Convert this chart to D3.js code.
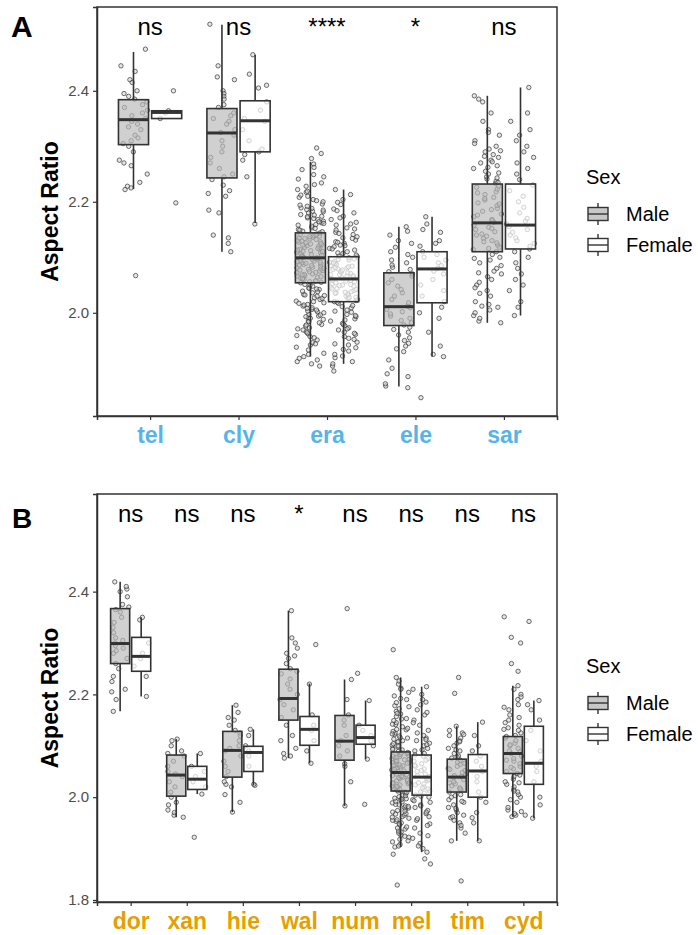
<!DOCTYPE html>
<html><head><meta charset="utf-8">
<script src="https://cdn.jsdelivr.net/npm/d3@7"></script>
<style>body{margin:0;background:#fff}svg{display:block;font-family:"Liberation Sans",Arial,Helvetica,sans-serif}</style>
</head><body><svg id="c" width="698" height="935"></svg>
<script>
// ---------- Panel A data ----------
const catsA = ["tel","cly","era","ele","sar"];
const sigA = ["ns","ns","****","*","ns"];
const ticksA = [2.0, 2.2, 2.4];
// [lower whisker, q1, median, q3, upper whisker]
const boxMaleA = [[2.223,2.303,2.348,2.384,2.470],[2.110,2.243,2.324,2.368,2.519],[1.921,2.054,2.099,2.144,2.272],[1.867,1.977,2.011,2.072,2.155],[1.982,2.110,2.162,2.232,2.391]];
const boxFemaleA = [[2.350,2.350,2.361,2.364,2.364],[2.162,2.290,2.346,2.382,2.465],[1.908,2.020,2.061,2.101,2.222],[1.921,2.018,2.079,2.110,2.173],[1.995,2.115,2.158,2.232,2.406]];
const ptsMaleA = [
 [2.475,2.445,2.435,2.42,2.415,2.40,2.395,2.39,2.385,2.38,2.375,2.37,2.365,2.36,2.355,2.35,2.345,2.34,2.335,2.33,2.32,2.315,2.31,2.305,2.30,2.29,2.275,2.27,2.265,2.25,2.235,2.228,2.225,2.222,2.067],
 [2.52,2.445,2.425,2.42,2.40,2.395,2.39,2.385,2.375,2.37,2.36,2.355,2.35,2.345,2.34,2.33,2.325,2.32,2.31,2.30,2.29,2.28,2.27,2.26,2.25,2.245,2.24,2.23,2.22,2.215,2.21,2.185,2.18,2.14,2.135,2.125,2.11],
 [1.904,1.908,1.912,1.918,1.921,1.927,1.933,1.938,1.942,1.946,1.951,1.955,1.959,1.962,1.966,1.969,1.973,1.976,1.979,1.982,1.985,1.988,1.991,1.994,1.997,2.000,2.003,2.006,2.009,2.012,2.015,2.018,2.021,2.024,2.027,2.030,2.033,2.036,2.039,2.042,2.045,2.048,2.051,
  2.054,2.055,2.057,2.058,2.060,2.061,2.063,2.064,2.066,2.067,2.069,2.070,2.072,2.073,2.075,2.076,2.078,2.079,2.081,2.082,2.084,2.085,2.087,2.088,2.090,2.091,2.093,2.094,2.096,2.097,
  2.099,2.100,2.102,2.103,2.105,2.106,2.108,2.109,2.111,2.112,2.114,2.115,2.117,2.118,2.120,2.121,2.123,2.124,2.126,2.127,2.129,2.130,2.132,2.133,2.135,2.136,2.138,2.139,2.141,2.142,
  2.144,2.147,2.150,2.153,2.156,2.159,2.162,2.165,2.168,2.171,2.174,2.177,2.180,2.183,2.186,2.189,2.192,2.196,2.200,2.204,2.208,2.212,2.217,2.222,2.228,2.234,2.241,2.249,2.258,2.268,2.278,2.287,2.297,
  1.915,1.925,1.944,1.957,1.964,1.971,1.978,1.984,1.990,1.996,2.002,2.008,2.014,2.020,2.026,2.032,2.038,2.044,2.050,2.056,2.062,2.068,2.074,2.080,2.086,2.092,2.098,2.104,2.110,2.116,2.122,2.128,2.134,2.140,2.146,2.152,2.158,2.164,2.170,2.176,2.182,2.188,2.194,2.202,2.210,2.219,2.231,2.245,2.262,2.065,2.077,2.089,2.101,2.113,2.125,2.137,2.149,2.161,2.173,2.185,2.031,2.043,2.017,2.005,1.993],
 [1.865,1.868,1.872,1.885,1.89,1.90,1.915,1.93,1.935,1.94,1.945,1.95,1.955,1.96,1.965,1.97,1.974,1.978,1.982,1.986,1.99,1.994,1.998,2.002,2.006,2.009,2.012,2.018,2.024,2.03,2.036,2.042,2.048,2.054,2.06,2.066,2.07,2.074,2.078,2.082,2.086,2.09,2.095,2.10,2.105,2.11,2.118,2.125,2.13,2.14,2.147,2.155],
 [1.982,1.985,1.99,1.995,2.0,2.005,2.01,2.015,2.02,2.03,2.035,2.04,2.05,2.055,2.06,2.065,2.07,2.075,2.08,2.085,2.09,2.095,2.1,2.105,2.11,2.114,2.118,2.122,2.126,2.13,2.134,2.138,2.142,2.146,2.15,2.154,2.158,2.163,2.168,2.173,2.178,2.183,2.188,2.193,2.198,2.203,2.208,2.213,2.218,2.223,2.228,2.233,2.237,2.241,2.245,2.25,2.255,2.26,2.265,2.27,2.275,2.28,2.285,2.29,2.295,2.3,2.31,2.32,2.33,2.345,2.36,2.38,2.385,2.391,
  2.012,2.045,2.072,2.098,2.116,2.128,2.140,2.152,2.166,2.176,2.186,2.196,2.206,2.216,2.226,2.235,2.243,2.252,2.262,2.272,2.282,2.292,2.305,2.325]
];
const ptsFemaleA = [
 [2.40,2.364,2.36,2.35,2.198],
 [2.465,2.43,2.41,2.405,2.38,2.365,2.35,2.345,2.33,2.31,2.295,2.29,2.285,2.275,2.245,2.16],
 [1.895,1.904,1.912,1.919,1.925,1.931,1.937,1.942,1.947,1.952,1.957,1.961,1.965,1.969,1.973,1.977,1.981,1.985,1.989,1.993,1.997,2.001,2.005,2.009,2.013,2.017,
  2.020,2.022,2.024,2.026,2.028,2.030,2.032,2.034,2.036,2.038,2.040,2.042,2.044,2.046,2.048,2.050,2.052,2.054,2.056,2.058,
  2.061,2.063,2.065,2.067,2.069,2.071,2.073,2.075,2.077,2.079,2.081,2.083,2.085,2.087,2.089,2.091,2.093,2.095,2.097,2.099,
  2.101,2.104,2.107,2.110,2.113,2.116,2.119,2.122,2.125,2.128,2.131,2.134,2.137,2.141,2.145,2.149,2.153,2.158,2.163,2.168,2.174,2.180,2.187,2.195,2.204,2.213,2.222,
  1.908,1.922,1.934,1.944,1.954,1.963,1.971,1.979,1.987,1.995,2.003,2.011,2.019,2.027,2.035,2.043,2.051,2.059,2.066,2.072,2.078,2.084,2.090,2.096,2.102,2.108,2.115,2.121,2.127,2.135,2.143,2.151,2.160,2.171,2.184,2.199,2.037,2.049,2.057,2.069,2.081],
 [1.847,1.921,1.925,1.94,1.965,1.99,2.0,2.01,2.02,2.03,2.04,2.05,2.06,2.07,2.075,2.08,2.085,2.09,2.095,2.10,2.105,2.11,2.12,2.125,2.13,2.145,2.15,2.16,2.173],
 [1.995,2.01,2.02,2.04,2.05,2.06,2.07,2.08,2.09,2.1,2.11,2.115,2.12,2.125,2.13,2.135,2.14,2.145,2.15,2.155,2.16,2.165,2.17,2.18,2.19,2.2,2.21,2.22,2.23,2.24,2.25,2.26,2.27,2.28,2.29,2.3,2.31,2.32,2.33,2.345,2.36,2.406]
];

// ---------- Panel B data ----------
const catsB = ["dor","xan","hie","wal","num","mel","tim","cyd"];
const sigB = ["ns","ns","ns","*","ns","ns","ns","ns"];
const ticksB = [1.8, 2.0, 2.2, 2.4];
const boxMaleB = [[2.167,2.260,2.299,2.367,2.419],[1.961,2.002,2.043,2.082,2.113],[1.971,2.039,2.091,2.128,2.179],[2.076,2.150,2.192,2.249,2.363],[1.983,2.072,2.109,2.159,2.229],[1.903,2.012,2.048,2.088,2.233],[1.915,2.010,2.039,2.074,2.138],[1.962,2.046,2.085,2.118,2.217]];
const boxFemaleB = [[2.196,2.245,2.274,2.311,2.350],[2.006,2.015,2.035,2.060,2.085],[2.023,2.050,2.087,2.099,2.132],[2.066,2.101,2.132,2.157,2.221],[2.074,2.103,2.116,2.140,2.188],[1.893,2.004,2.039,2.082,2.215],[1.915,2.000,2.051,2.083,2.146],[1.959,2.025,2.066,2.138,2.188]];
const ptsMaleB = [
 [2.167,2.19,2.205,2.21,2.225,2.235,2.25,2.26,2.27,2.28,2.285,2.29,2.295,2.30,2.305,2.31,2.32,2.33,2.34,2.35,2.36,2.365,2.37,2.375,2.39,2.40,2.405,2.41,2.419],
 [1.961,1.965,1.97,1.975,1.985,1.99,2.0,2.01,2.02,2.03,2.04,2.045,2.05,2.06,2.07,2.08,2.085,2.09,2.1,2.11,2.113],
 [1.971,1.99,2.005,2.02,2.025,2.03,2.04,2.05,2.06,2.07,2.08,2.09,2.095,2.1,2.11,2.12,2.125,2.13,2.14,2.15,2.155,2.165,2.179],
 [2.076,2.08,2.085,2.095,2.11,2.12,2.14,2.155,2.17,2.18,2.19,2.20,2.21,2.22,2.23,2.24,2.245,2.25,2.26,2.27,2.275,2.28,2.29,2.30,2.31,2.363],
 [1.983,2.03,2.06,2.065,2.08,2.09,2.10,2.11,2.12,2.14,2.15,2.16,2.19,2.229,2.367],
 [1.829,1.889,1.903,1.908,1.913,1.918,1.922,1.926,1.930,1.934,1.938,1.942,1.946,1.950,1.953,1.956,1.959,1.962,1.965,1.968,1.971,1.974,1.977,1.980,1.983,1.986,1.989,1.992,1.995,1.998,2.001,2.004,2.007,2.010,
  2.012,2.014,2.016,2.018,2.020,2.022,2.024,2.026,2.028,2.030,2.032,2.034,2.036,2.038,2.040,2.042,2.044,2.046,
  2.049,2.051,2.053,2.055,2.057,2.059,2.061,2.063,2.065,2.067,2.069,2.071,2.073,2.075,2.077,2.079,2.081,2.083,2.085,2.087,
  2.089,2.092,2.095,2.098,2.101,2.104,2.107,2.110,2.113,2.116,2.119,2.122,2.125,2.128,2.131,2.134,2.137,2.141,2.145,2.149,2.153,2.157,2.162,2.167,2.172,2.178,2.184,2.190,2.197,2.204,2.212,2.220,2.226,2.233,2.287,
  1.905,1.915,1.924,1.932,1.940,1.948,1.955,1.961,1.967,1.973,1.979,1.985,1.991,1.997,2.003,2.009,2.015,2.021,2.027,2.033,2.039,2.045,2.050,2.056,2.062,2.068,2.074,2.080,2.086,2.093,2.100,2.108,2.115,2.123,2.132,2.142,2.152,2.163,2.176,2.192,2.210,2.028,2.041,2.054,2.066,2.078,1.996,1.982],
 [1.837,1.915,1.93,1.94,1.95,1.955,1.96,1.965,1.97,1.975,1.98,1.985,1.99,1.995,2.0,2.005,2.01,2.014,2.018,2.022,2.026,2.03,2.034,2.038,2.04,2.044,2.048,2.052,2.056,2.06,2.064,2.068,2.072,2.076,2.08,2.085,2.09,2.095,2.10,2.105,2.11,2.115,2.12,2.125,2.13,2.138,2.202,2.233,
  1.945,1.962,1.978,1.992,2.003,2.016,2.028,2.042,2.054,2.066,2.078,2.092,2.108,2.122],
 [1.962,1.965,1.968,1.975,1.98,1.99,2.0,2.005,2.01,2.015,2.02,2.025,2.03,2.035,2.04,2.046,2.05,2.055,2.06,2.065,2.07,2.075,2.08,2.085,2.09,2.095,2.1,2.105,2.11,2.115,2.12,2.125,2.13,2.135,2.14,2.145,2.15,2.16,2.17,2.18,2.19,2.2,2.21,2.217,2.245,2.26,2.30,2.311,2.351,
  1.972,1.995,2.012,2.028,2.043,2.058,2.072,2.088,2.102,2.118,2.132,2.155,2.175,2.195]
];
const ptsFemaleB = [
 [2.196,2.235,2.255,2.27,2.28,2.30,2.345,2.35],
 [1.922,2.006,2.02,2.03,2.04,2.05,2.06,2.085],
 [2.023,2.025,2.06,2.08,2.09,2.1,2.12,2.132],
 [2.066,2.09,2.11,2.13,2.14,2.16,2.22,2.297],
 [1.986,2.074,2.10,2.11,2.12,2.13,2.14,2.188,2.241],
 [1.870,1.880,1.893,1.90,1.91,1.92,1.93,1.94,1.948,1.955,1.962,1.968,1.974,1.98,1.985,1.99,1.995,2.0,2.004,2.008,2.012,2.016,2.02,2.024,2.028,2.032,2.036,2.04,2.045,2.05,2.055,2.06,2.065,2.07,2.075,2.08,2.085,2.09,2.095,2.10,2.105,2.11,2.115,2.12,2.13,2.14,2.15,2.16,2.17,2.18,2.19,2.2,2.21,2.215,
  1.905,1.925,1.945,1.958,1.971,1.983,1.993,2.002,2.010,2.018,2.026,2.034,2.042,2.052,2.062,2.072,2.082,2.092,2.102,2.112,2.125,2.145,2.165,2.185],
 [1.915,1.95,1.96,1.97,1.99,2.0,2.01,2.03,2.04,2.05,2.06,2.07,2.08,2.09,2.1,2.12,2.146],
 [1.959,1.965,1.985,2.0,2.03,2.05,2.06,2.07,2.09,2.11,2.13,2.15,2.17,2.18,2.188,2.342]
];
const sexes = ["Male","Female"];

// ---------- drawing ----------
const svg = d3.select("#c");
const FONT = '"Liberation Sans",Arial,Helvetica,sans-serif';
const fills = {Male:"rgba(185,185,185,0.68)", Female:"rgba(255,255,255,0.7)"};
// deterministic hash used only for horizontal jitter placement
const hash = (k, s) => { const v = Math.sin(k*12.9898 + s*78.233) * 43758.5453; return v - Math.floor(v); };

function panel(cfg){
  const g = svg.append("g");
  const x = d3.scalePoint().domain(cfg.cats).range([cfg.left, cfg.right]).padding(0.6);
  const y = d3.scaleLinear().domain(cfg.domain).range([cfg.bottom, cfg.top]);
  const step = x.step();
  const bw = 0.34*step, dodge = 0.1875*step, jw = 0.32*step;

  g.append("text").attr("x",cfg.labX).attr("y",cfg.labY).attr("font-size",cfg.labSize).attr("font-weight","bold").attr("fill","#000").text(cfg.label);

  // jittered points (behind boxes)
  const pg = g.append("g");
  cfg.cats.forEach((c,i)=>{
    [[cfg.ptsM[i],-1],[cfg.ptsF[i],1]].forEach(([arr,s])=>{
      const cx = x(c) + s*dodge;
      pg.selectAll(null).data(arr).enter().append("circle")
        .attr("cx",(d,k)=>cx + (hash(k+1, i*2+(s>0?1:0)+cfg.seed) - 0.5)*jw)
        .attr("cy",d=>y(d)).attr("r",2.2)
        .attr("fill","#d0d0d0").attr("fill-opacity",0.5)
        .attr("stroke","#333").attr("stroke-opacity",0.82).attr("stroke-width",0.85);
    });
  });

  // boxes
  const bg = g.append("g");
  cfg.cats.forEach((c,i)=>{
    [[cfg.boxM[i],-1,"Male"],[cfg.boxF[i],1,"Female"]].forEach(([b,s,sex])=>{
      const cx = x(c)+s*dodge;
      bg.append("line").attr("x1",cx).attr("x2",cx).attr("y1",y(b[0])).attr("y2",y(b[1])).attr("stroke","#333").attr("stroke-width",1.6);
      bg.append("line").attr("x1",cx).attr("x2",cx).attr("y1",y(b[3])).attr("y2",y(b[4])).attr("stroke","#333").attr("stroke-width",1.6);
      bg.append("rect").attr("x",cx-bw/2).attr("width",bw).attr("y",y(b[3])).attr("height",Math.max(1,y(b[1])-y(b[3])))
        .attr("fill",fills[sex]).attr("stroke","#333").attr("stroke-width",1.6);
      bg.append("line").attr("x1",cx-bw/2).attr("x2",cx+bw/2).attr("y1",y(b[2])).attr("y2",y(b[2])).attr("stroke","#333").attr("stroke-width",3);
    });
  });

  g.selectAll(null).data(cfg.sig).enter().append("text")
    .attr("x",(d,i)=>x(cfg.cats[i])).attr("y",cfg.sigY).attr("text-anchor","middle")
    .attr("font-size",24).attr("fill","#000").text(d=>d);

  g.append("rect").attr("x",cfg.left).attr("y",cfg.top).attr("width",cfg.right-cfg.left).attr("height",cfg.bottom-cfg.top)
    .attr("fill","none").attr("stroke","#333").attr("stroke-width",1.5);

  const ya = g.append("g").attr("transform",`translate(${cfg.left},0)`)
    .call(d3.axisLeft(y).tickValues(cfg.ticks).tickFormat(d3.format(".1f")).tickSize(4).tickPadding(4));
  ya.select(".domain").attr("stroke","#333").attr("stroke-width",1.5);
  ya.selectAll(".tick line").attr("stroke","#333").attr("stroke-width",1.2);
  ya.selectAll(".tick text").attr("fill","#4d4d4d").attr("font-size",15).attr("font-family",FONT);

  const xa = g.append("g").attr("transform",`translate(0,${cfg.bottom})`)
    .call(d3.axisBottom(x).tickSize(4).tickPadding(7));
  xa.select(".domain").attr("stroke","#333").attr("stroke-width",1.5);
  xa.selectAll(".tick line").attr("stroke","#333").attr("stroke-width",1.2);
  xa.selectAll(".tick text").attr("fill",cfg.xColor).attr("font-size",23).attr("font-weight","bold").attr("font-family",FONT);

  g.append("text").attr("transform",`translate(58,${(cfg.top+cfg.bottom)/2}) rotate(-90)`)
    .attr("text-anchor","middle").attr("font-size",23).attr("font-weight","bold").attr("fill","#000").text("Aspect Ratio");

  const lg = g.append("g");
  lg.append("text").attr("x",586).attr("y",cfg.legY).attr("font-size",20).attr("fill","#000").text("Sex");
  sexes.forEach((s,i)=>{
    const cy = cfg.legY + 30 + i*31, kx = 598;
    lg.append("line").attr("x1",kx).attr("x2",kx).attr("y1",cy-11).attr("y2",cy+11).attr("stroke","#333").attr("stroke-width",1.4);
    lg.append("rect").attr("x",kx-10).attr("y",cy-6.5).attr("width",20).attr("height",13)
      .attr("fill",s==="Male"?"#c8c8c8":"#fff").attr("stroke","#333").attr("stroke-width",1.4);
    lg.append("line").attr("x1",kx-10).attr("x2",kx+10).attr("y1",cy).attr("y2",cy).attr("stroke","#333").attr("stroke-width",1.4);
    lg.append("text").attr("x",626).attr("y",cy+7).attr("font-size",20).attr("fill","#000").text(s);
  });
}

panel({label:"A",labX:11,labY:37,labSize:30,cats:catsA,sig:sigA,ticks:ticksA,boxM:boxMaleA,boxF:boxFemaleA,ptsM:ptsMaleA,ptsF:ptsFemaleA,
  left:97,right:557,top:7,bottom:416,domain:[1.814,2.551],sigY:35,xColor:"#56B4E9",legY:184,seed:0});
panel({label:"B",labX:12,labY:528,labSize:28,cats:catsB,sig:sigB,ticks:ticksB,boxM:boxMaleB,boxF:boxFemaleB,ptsM:ptsMaleB,ptsF:ptsFemaleB,
  left:97,right:557,top:494,bottom:902,domain:[1.796,2.590],sigY:522,xColor:"#E69F00",legY:673,seed:20});
</script></body></html>
